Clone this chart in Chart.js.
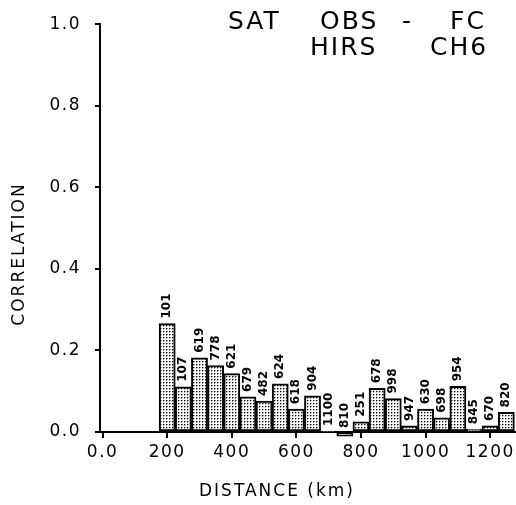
<!DOCTYPE html>
<html><head><meta charset="utf-8">
<script src="https://cdn.jsdelivr.net/npm/chart.js@4.4.1/dist/chart.umd.min.js"></script>
<style>html,body{margin:0;padding:0;background:#fff}</style>
</head><body>
<canvas id="c" width="516" height="505"></canvas>
<script>
// ---- data ----
const distances = [200,250,300,350,400,450,500,550,600,650,700,750,800,850,900,950,1000,1050,1100,1150,1200,1250];
const correlations = [0.266,0.111,0.182,0.163,0.143,0.086,0.076,0.118,0.056,0.089,0.002,-0.010,0.025,0.107,0.082,0.015,0.056,0.035,0.112,0.007,0.015,0.048];
const sampleCounts = ['101','107','619','778','621','679','482','624','618','904','1100','810','251','678','998','947','630','698','954','845','670','820'];
const xTickValues = [0,200,400,600,800,1000,1200];
const yTickValues = [0,0.2,0.4,0.6,0.8,1.0];
const titleLine1 = ['SAT','OBS','-','FC'];
const titleLine2 = ['HIRS','CH6'];
const xTitle = 'DISTANCE (km)';
const yTitle = 'CORRELATION';

// stipple fill pattern
function makePattern(){
  const p = document.createElement('canvas');
  p.width = 3; p.height = 3;
  const g = p.getContext('2d');
  g.fillStyle = '#fff'; g.fillRect(0,0,3,3);
  g.fillStyle = '#000'; g.fillRect(1,1,1,1);
  g.fillStyle = '#999'; g.fillRect(2,1,1,1); g.fillRect(1,2,1,1);
  return document.getElementById('c').getContext('2d').createPattern(p,'repeat');
}
const stipple = makePattern();

const spacingPlugin = {
  id:'spacing',
  beforeInit(chart){ chart.ctx.letterSpacing = '1.5px'; },
  beforeDraw(chart){ chart.ctx.letterSpacing = '1.5px'; }
};

const labelPlugin = {
  id:'barLabels',
  afterDatasetsDraw(chart){
    const ctx = chart.ctx;
    const meta = chart.getDatasetMeta(0);
    ctx.save();
    ctx.letterSpacing = '0px';
    ctx.font = 'bold 12px "DejaVu Sans"';
    ctx.fillStyle = '#000';
    ctx.textAlign = 'left';
    ctx.textBaseline = 'middle';
    meta.data.forEach((bar,i)=>{
      const top = Math.min(bar.y, bar.base);
      ctx.save();
      ctx.translate(bar.x, top - 5);
      ctx.rotate(-Math.PI/2);
      ctx.fillText(sampleCounts[i], 0, 0);
      ctx.restore();
    });
    ctx.restore();
  }
};

const textPlugin = {
  id:'texts',
  afterDraw(chart){
    const ctx = chart.ctx;
    ctx.save();
    ctx.fillStyle = '#000';
    // corner title
    ctx.letterSpacing = '2px';
    ctx.font = '25px "DejaVu Sans"';
    ctx.textBaseline = 'alphabetic';
    ctx.textAlign = 'left';
    const x1 = [228,320,402,450];
    titleLine1.forEach((w,i)=>ctx.fillText(w, x1[i], 29));
    const x2 = [310,430];
    titleLine2.forEach((w,i)=>ctx.fillText(w, x2[i], 55));
    // axis titles
    ctx.letterSpacing = '2px';
    ctx.font = '17px "DejaVu Sans"';
    ctx.textAlign = 'center';
    ctx.textBaseline = 'middle';
    ctx.fillText(xTitle, 277, 492);
    ctx.translate(20, 254);
    ctx.rotate(-Math.PI/2);
    ctx.fillText(yTitle, 0, 0);
    ctx.restore();
  }
};

new Chart(document.getElementById('c'), {
  type:'bar',
  data:{
    datasets:[{
      data: distances.map((d,i)=>({x:d, y:correlations[i]})),
      backgroundColor: stipple,
      borderColor:'#000',
      borderWidth:2,
      borderSkipped:false,
      barPercentage:1,
      categoryPercentage:1,
      clip:false
    }]
  },
  options:{
    responsive:false,
    animation:false,
    events:[],
    layout:{padding:{top:24,right:0,left:0,bottom:0}},
    plugins:{legend:{display:false},tooltip:{enabled:false},title:{display:false}},
    scales:{
      x:{
        type:'linear', min:-8, max:1280, offset:false,
        afterBuildTicks(s){ s.ticks = xTickValues.map(v=>({value:v})); },
        afterFit(s){ s.height = 73; },
        grid:{display:true, offset:false, drawOnChartArea:false, drawTicks:true, tickLength:6, color:'#000', lineWidth:2},
        border:{display:true, color:'#000', width:2},
        ticks:{color:'#000', font:{family:'DejaVu Sans', size:17}, padding:4, maxRotation:0, autoSkip:false,
          callback:(v)=> v===0 ? '0.0' : String(v)},
        title:{display:false}
      },
      y:{
        min:0, max:1.0,
        afterBuildTicks(s){ s.ticks = yTickValues.map(v=>({value:v})); },
        afterFit(s){ s.width = 100; },
        grid:{display:true, offset:false, drawOnChartArea:false, drawTicks:true, tickLength:5, color:'#000', lineWidth:2},
        border:{display:true, color:'#000', width:2},
        ticks:{color:'#000', font:{family:'DejaVu Sans', size:17}, padding:14,
          callback:(v)=> Number(v).toFixed(1)},
        title:{display:false}
      }
    }
  },
  plugins:[spacingPlugin, labelPlugin, textPlugin]
});
</script>
</body></html>
